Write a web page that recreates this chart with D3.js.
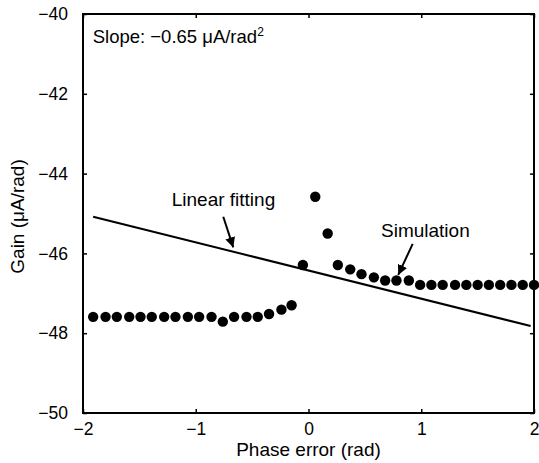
<!DOCTYPE html>
<html>
<head>
<meta charset="utf-8">
<script src="https://cdn.jsdelivr.net/npm/d3@7"></script>
<style>
  body { margin: 0; background: #fff; }
  text { font-family: Arial, "Liberation Sans", sans-serif; fill: #000; }
</style>
</head>
<body>
<div id="chart"></div>
<script>
// simulated gain vs phase error
const simX = [-1.91, -1.80, -1.70, -1.59, -1.49, -1.39, -1.28, -1.18, -1.07, -0.97,
              -0.86, -0.76, -0.66, -0.55, -0.45, -0.35, -0.24, -0.15,
              -0.05, 0.06, 0.17, 0.26, 0.37, 0.47, 0.58, 0.68, 0.78, 0.89,
              0.99, 1.09, 1.19, 1.30, 1.40, 1.50, 1.60, 1.70, 1.80, 1.90, 2.00];
const simY = [-47.59, -47.59, -47.59, -47.59, -47.59, -47.59, -47.59, -47.59, -47.59, -47.59,
              -47.59, -47.71, -47.59, -47.59, -47.59, -47.52, -47.41, -47.30,
              -46.29, -44.58, -45.50, -46.29, -46.40, -46.52, -46.60, -46.68, -46.68, -46.68,
              -46.79, -46.79, -46.79, -46.79, -46.79, -46.79, -46.79, -46.79, -46.79, -46.79, -46.79];

// linear fit end points
const fitX = [-1.91, 1.97];
const fitY = [-45.08, -47.82];

const xTicks = [-2, -1, 0, 1, 2];
const yTicks = [-50, -48, -46, -44, -42, -40];

// annotations: text anchor and arrow (from -> to), data coords
const notes = [
  {label: "Linear fitting", tx: -1.213, ty: -44.80, ax: [-0.756, -0.667], ay: [-45.08, -45.85]},
  {label: "Simulation", tx: 0.643, ty: -45.58, ax: [0.924, 0.796], ay: [-45.76, -46.54]}
];

const W = 539, H = 463;
const margin = {top: 14, right: 5, bottom: 50, left: 83};

const svg = d3.select("#chart").append("svg")
  .attr("width", W).attr("height", H);

const x = d3.scaleLinear().domain([-2, 2]).range([margin.left, 534]);
const y = d3.scaleLinear().domain([-50, -40]).range([413, margin.top]);

const fmt = d3.format("d");

// axes, ticks pointing inward
svg.append("g")
  .attr("transform", "translate(0," + y(-50) + ")")
  .call(d3.axisBottom(x).tickValues(xTicks).tickSizeInner(-4).tickSizeOuter(0).tickPadding(10).tickFormat(fmt))
  .call(g => g.selectAll("text").attr("font-size", 17.5));
svg.append("g")
  .attr("transform", "translate(0," + y(-40) + ")")
  .call(d3.axisTop(x).tickValues(xTicks).tickSizeInner(-4).tickSizeOuter(0).tickFormat(""));
svg.append("g")
  .attr("transform", "translate(" + x(-2) + ",0)")
  .call(d3.axisLeft(y).tickValues(yTicks).tickSizeInner(-4).tickSizeOuter(0).tickPadding(15).tickFormat(fmt))
  .call(g => g.selectAll("text").attr("font-size", 17.5));
svg.append("g")
  .attr("transform", "translate(" + x(2) + ",0)")
  .call(d3.axisRight(y).tickValues(yTicks).tickSizeInner(-4).tickSizeOuter(0).tickFormat(""));

svg.selectAll(".domain").remove();
svg.selectAll(".tick line").attr("stroke", "#000").attr("stroke-width", 1.5);
svg.selectAll(".tick text").attr("font-family", "Arial, 'Liberation Sans', sans-serif").attr("fill", "#000");

svg.append("rect")
  .attr("x", x(-2)).attr("y", y(-40))
  .attr("width", x(2) - x(-2)).attr("height", y(-50) - y(-40))
  .attr("fill", "none").attr("stroke", "#000").attr("stroke-width", 2);

// fit line
svg.append("path")
  .datum(d3.zip(fitX, fitY))
  .attr("fill", "none").attr("stroke", "#000").attr("stroke-width", 2)
  .attr("d", d3.line().x(d => x(d[0])).y(d => y(d[1])));

// simulation points
svg.selectAll(".pt")
  .data(d3.zip(simX, simY))
  .enter().append("circle")
  .attr("class", "pt")
  .attr("cx", d => x(d[0])).attr("cy", d => y(d[1]))
  .attr("r", 5.2).attr("fill", "#000");

// arrow head
svg.append("defs").append("marker")
  .attr("id", "head").attr("viewBox", "0 0 10 10")
  .attr("refX", 10).attr("refY", 5)
  .attr("markerWidth", 10).attr("markerHeight", 10)
  .attr("markerUnits", "userSpaceOnUse")
  .attr("orient", "auto")
  .append("path").attr("d", "M0,0 L10,5 L0,10 Z").attr("fill", "#000");

notes.forEach(n => {
  svg.append("text")
    .attr("x", x(n.tx)).attr("y", y(n.ty))
    .attr("font-size", 19)
    .text(n.label);
  svg.append("line")
    .attr("x1", x(n.ax[0])).attr("y1", y(n.ay[0]))
    .attr("x2", x(n.ax[1])).attr("y2", y(n.ay[1]))
    .attr("stroke", "#000").attr("stroke-width", 2)
    .attr("marker-end", "url(#head)");
});

// slope label
const slope = svg.append("text")
  .attr("x", x(-1.914)).attr("y", y(-40.72))
  .attr("font-size", 18.5);
slope.append("tspan").text("Slope: \u22120.65 \u03bcA/rad");
slope.append("tspan").attr("dy", -7).attr("font-size", 12).text("2");

// axis titles
svg.append("text")
  .attr("x", (x(-2) + x(2)) / 2).attr("y", 456)
  .attr("text-anchor", "middle").attr("font-size", 19)
  .text("Phase error (rad)");
svg.append("text")
  .attr("transform", "translate(24," + (y(-45) + 3) + ") rotate(-90)")
  .attr("text-anchor", "middle").attr("font-size", 19)
  .text("Gain (\u03bcA/rad)");
</script>
</body>
</html>
